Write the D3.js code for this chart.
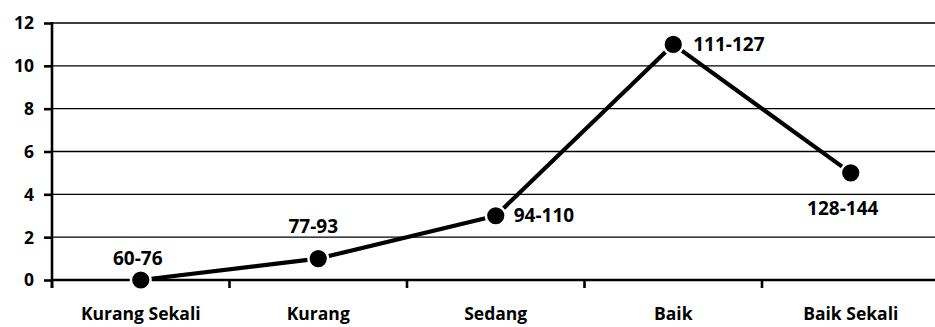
<!DOCTYPE html>
<html>
<head>
<meta charset="utf-8">
<script src="https://cdn.jsdelivr.net/npm/d3@7/dist/d3.min.js"></script>
<style>
  html, body { margin: 0; padding: 0; background: #fff; }
  svg text { font-family: "Open Sans", "Noto Sans", sans-serif; font-weight: 700; fill: #000; }
</style>
</head>
<body>
<svg id="chart" width="935" height="327"></svg>
<script>
// Category names on the x axis
const categories = ["Kurang Sekali", "Kurang", "Sedang", "Baik", "Baik Sekali"];
// Score ranges shown next to each point
const rangeLabels = ["60-76", "77-93", "94-110", "111-127", "128-144"];
// Frequency per category
const counts = [0, 1, 3, 11, 5];
// Y axis ticks
const yTicks = [0, 2, 4, 6, 8, 10, 12];

const svg = d3.select("#chart");
const plotLeft = 52, plotTop = 23, plotBottom = 280;
const band = 177.5;
const plotRight = plotLeft + band * categories.length;

const x = d3.scaleBand().domain(categories).range([plotLeft, plotRight]).paddingInner(0).paddingOuter(0);
const y = d3.scaleLinear().domain([0, 12]).range([plotBottom, plotTop]);

// horizontal gridlines
svg.append("g")
  .selectAll("line")
  .data(yTicks.filter(d => d > 0))
  .join("line")
  .attr("x1", plotLeft).attr("x2", plotRight)
  .attr("y1", d => y(d)).attr("y2", d => y(d))
  .attr("stroke", "#000").attr("stroke-width", 1.4);

// y axis
const yAxis = svg.append("g")
  .attr("transform", `translate(${plotLeft},0)`)
  .call(d3.axisLeft(y).tickValues(yTicks).tickSize(8).tickPadding(10).tickSizeOuter(0));
yAxis.select(".domain").remove();
yAxis.selectAll(".tick line").attr("stroke", "#000").attr("stroke-width", 2.6);
yAxis.selectAll(".tick text").style("font-size", "17.5px").attr("dy", "0.34em");
yAxis.append("line")
  .attr("x1", 0).attr("x2", 0).attr("y1", plotTop - 1).attr("y2", plotBottom + 8)
  .attr("stroke", "#000").attr("stroke-width", 2.6);

// x axis with ticks at the band edges
const xAxisG = svg.append("g").attr("transform", `translate(0,${plotBottom})`);
xAxisG.append("line")
  .attr("x1", plotLeft).attr("x2", plotRight).attr("y1", 0).attr("y2", 0)
  .attr("stroke", "#000").attr("stroke-width", 2.6);
xAxisG.selectAll("line.tk")
  .data(categories)
  .join("line")
  .attr("class", "tk")
  .attr("x1", d => x(d)).attr("x2", d => x(d))
  .attr("y1", 0).attr("y2", 8)
  .attr("stroke", "#000").attr("stroke-width", 2.6);
xAxisG.selectAll("text")
  .data(categories)
  .join("text")
  .attr("x", d => x(d) + x.bandwidth() / 2)
  .attr("y", 40)
  .attr("text-anchor", "middle")
  .style("font-size", "17.5px")
  .text(d => d);

const pts = categories.map((c, i) => ({ c, v: counts[i], label: rangeLabels[i] }));
const cx = d => x(d.c) + x.bandwidth() / 2;

// series line
svg.append("path")
  .datum(pts)
  .attr("fill", "none")
  .attr("stroke", "#000")
  .attr("stroke-width", 4.2)
  .attr("stroke-linejoin", "round")
  .attr("d", d3.line().x(cx).y(d => y(d.v)));

// markers with a white ring
svg.append("g")
  .selectAll("circle")
  .data(pts)
  .join("circle")
  .attr("cx", cx).attr("cy", d => y(d.v))
  .attr("r", 9.8)
  .attr("fill", "#000")
  .attr("stroke", "#fff").attr("stroke-width", 2.4);

// range labels around each marker
const placement = [
  { dx: -3, dy: -15, anchor: "middle" },
  { dx: -5, dy: -26, anchor: "middle" },
  { dx: 18, dy: 6.5, anchor: "start" },
  { dx: 20, dy: 6.5, anchor: "start" },
  { dx: -8, dy: 42, anchor: "middle" }
];
svg.append("g")
  .selectAll("text")
  .data(pts)
  .join("text")
  .attr("x", (d, i) => cx(d) + placement[i].dx)
  .attr("y", (d, i) => y(d.v) + placement[i].dy)
  .attr("text-anchor", (d, i) => placement[i].anchor)
  .style("font-size", "19px")
  .text(d => d.label);
</script>
</body>
</html>
